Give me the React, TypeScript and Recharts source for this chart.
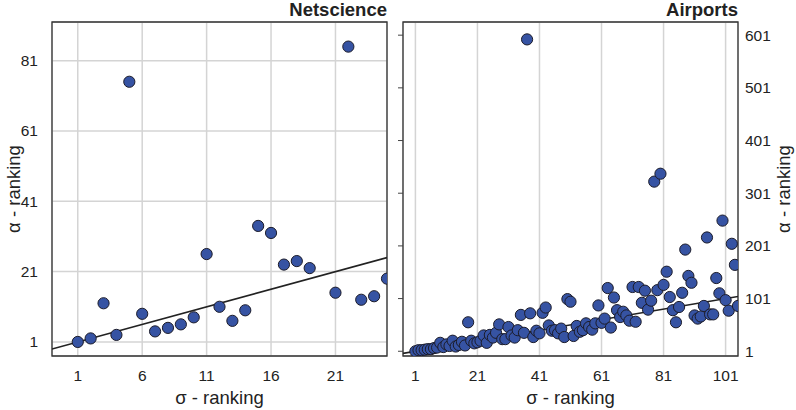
import React from "react";
import {
  CartesianGrid,
  Label,
  ReferenceArea,
  ReferenceLine,
  Scatter,
  ScatterChart,
  XAxis,
  YAxis
} from "recharts";

// Netscience: sigma rank vs alpha rank
const netSigma = [1, 2, 3, 4, 5, 6, 7, 8, 9, 10, 11, 12, 13, 14, 15, 16, 17, 18, 19, 21, 22, 23, 24, 25];
const netAlpha = [1, 2, 12, 3, 75, 9, 4, 5, 6, 8, 26, 11, 7, 10, 34, 32, 23, 24, 22, 15, 85, 13, 14, 19];
const netXTicks = [1, 6, 11, 16, 21];
const netYTicks = [1, 21, 41, 61, 81];
const netFit = [
  { x: -1, y: -1 },
  { x: 25, y: 25 }
];

// Airports
const airSigma = [
  1, 2, 3, 4, 5, 6, 7, 8, 9, 10, 11, 12, 13, 14, 15, 16, 17, 18, 19, 20, 21, 22, 23, 24, 25, 26, 27, 28, 29, 30,
  31, 32, 33, 34, 35, 36, 37, 38, 39, 40, 41, 42, 43, 44, 45, 46, 47, 48, 49, 50, 51, 52, 53, 54, 55, 56, 57, 58,
  59, 60, 61, 62, 63, 64, 65, 66, 67, 68, 69, 70, 71, 72, 73, 74, 75, 76, 77, 78, 79, 80, 81, 82, 83, 84, 85, 86,
  87, 88, 89, 90, 91, 92, 93, 94, 95, 96, 97, 98, 99, 100, 101, 102, 103, 104, 105
];
const airAlpha = [
  1, 3, 3, 4, 5, 5, 7, 8, 17, 9, 14, 11, 21, 10, 13, 19, 12, 56, 21, 16, 18, 21, 31, 17, 32, 27, 36, 52, 24, 24,
  47, 31, 27, 41, 70, 36, 593, 73, 28, 40, 35, 74, 84, 50, 40, 41, 35, 44, 28, 100, 95, 30, 49, 38, 41, 54, 47, 42,
  54, 88, 55, 63, 121, 46, 103, 79, 66, 76, 69, 59, 123, 57, 123, 93, 116, 80, 97, 323, 117, 338, 127, 152, 104, 79, 56, 85,
  112, 194, 144, 131, 69, 63, 67, 87, 217, 71, 71, 140, 111, 249, 98, 78, 205, 165, 87
];
const airXTicks = [1, 21, 41, 61, 81, 101];
const airYTicks = [1, 101, 201, 301, 401, 501, 601];
const airFit = [
  { x: -3, y: -3 },
  { x: 105, y: 105 }
];

const font = "'Liberation Sans', Arial, sans-serif";
const dotFill = "#3653a3";
const dotStroke = "#1c1c2a";
const gridColor = "#d4d4d4";
const tickStyle = { fontSize: 15.5, fill: "#222", fontFamily: font };
const labelStyle = { fontSize: 18.5, fill: "#222", fontFamily: font };

const dot = (props: any) => (
  <circle cx={props.cx} cy={props.cy} r={5.6} fill={dotFill} stroke={dotStroke} strokeWidth={1} />
);

const zip = (xs: number[], ys: number[]) => xs.map((x, i) => ({ x, y: ys[i] }));

function Title({ text, right }: { text: string; right: number }) {
  return (
    <div
      style={{
        position: "absolute",
        top: -1,
        right,
        fontFamily: font,
        fontWeight: "bold",
        fontSize: 18.5,
        color: "#222"
      }}
    >
      {text}
    </div>
  );
}

export default function App() {
  const net = zip(netSigma, netAlpha);
  const air = zip(airSigma, airAlpha);
  return (
    <div style={{ position: "absolute", left: 0, top: 0, width: 796, height: 410, background: "#fff" }}>
      <div style={{ position: "absolute", left: 0, top: 0, width: 396, height: 410 }}>
        <Title text="Netscience" right={9} />
        <ScatterChart width={396} height={410} margin={{ top: 22, right: 9, bottom: 0, left: 0 }}>
          <CartesianGrid stroke={gridColor} strokeWidth={1.5} />
          <XAxis
            type="number"
            dataKey="x"
            domain={[-1, 25]}
            ticks={netXTicks}
            allowDataOverflow
            tickLine={false}
            axisLine={false}
            tickSize={6}
            tickMargin={8}
            height={54}
            tick={tickStyle}
          >
            <Label value="σ - ranking" position="center" dy={14} style={labelStyle} />
          </XAxis>
          <YAxis
            type="number"
            dataKey="y"
            domain={[-3, 92]}
            ticks={netYTicks}
            allowDataOverflow
            tickLine={false}
            axisLine={false}
            tickSize={6}
            tickMargin={8}
            width={52}
            tick={tickStyle}
          >
            <Label value="α - ranking" position="center" angle={-90} dx={-13} style={labelStyle} />
          </YAxis>
          <ReferenceArea x1={-1} x2={25} y1={-3} y2={92} fill="none" stroke="#333" strokeWidth={1.3} />
          <ReferenceLine segment={netFit} stroke="#222" strokeWidth={1.6} ifOverflow="hidden" />
          <Scatter data={net} shape={dot} isAnimationActive={false} />
        </ScatterChart>
      </div>
      <div style={{ position: "absolute", left: 396, top: 0, width: 400, height: 410 }}>
        <Title text="Airports" right={58} />
        <ScatterChart width={400} height={410} margin={{ top: 22, right: 0, bottom: 0, left: 0 }}>
          <CartesianGrid stroke={gridColor} strokeWidth={1.5} />
          <XAxis
            type="number"
            dataKey="x"
            domain={[-3, 105]}
            ticks={airXTicks}
            allowDataOverflow
            tickLine={false}
            axisLine={false}
            tickSize={6}
            tickMargin={8}
            height={54}
            tick={tickStyle}
          >
            <Label value="σ - ranking" position="center" dy={14} style={labelStyle} />
          </XAxis>
          <YAxis
            yAxisId="left"
            type="number"
            dataKey="y"
            domain={[-8, 626]}
            ticks={airYTicks}
            allowDataOverflow
            axisLine={false}
            tickLine={{ stroke: "#444" }}
            tickSize={5}
            width={7}
            tick={() => <g />}
          />
          <YAxis
            yAxisId="right"
            orientation="right"
            type="number"
            dataKey="y"
            domain={[-8, 626]}
            ticks={airYTicks}
            allowDataOverflow
            tickLine={false}
            axisLine={false}
            tickSize={0}
            tickMargin={7}
            width={58}
            tick={tickStyle}
          >
            <Label value="α - ranking" position="center" angle={-90} dx={16} style={labelStyle} />
          </YAxis>
          <ReferenceArea
            yAxisId="left"
            x1={-3}
            x2={105}
            y1={-8}
            y2={626}
            fill="none"
            stroke="#333"
            strokeWidth={1.3}
          />
          <ReferenceLine yAxisId="left" segment={airFit} stroke="#222" strokeWidth={1.6} ifOverflow="hidden" />
          <Scatter yAxisId="left" data={air} shape={dot} isAnimationActive={false} />
        </ScatterChart>
      </div>
    </div>
  );
}
